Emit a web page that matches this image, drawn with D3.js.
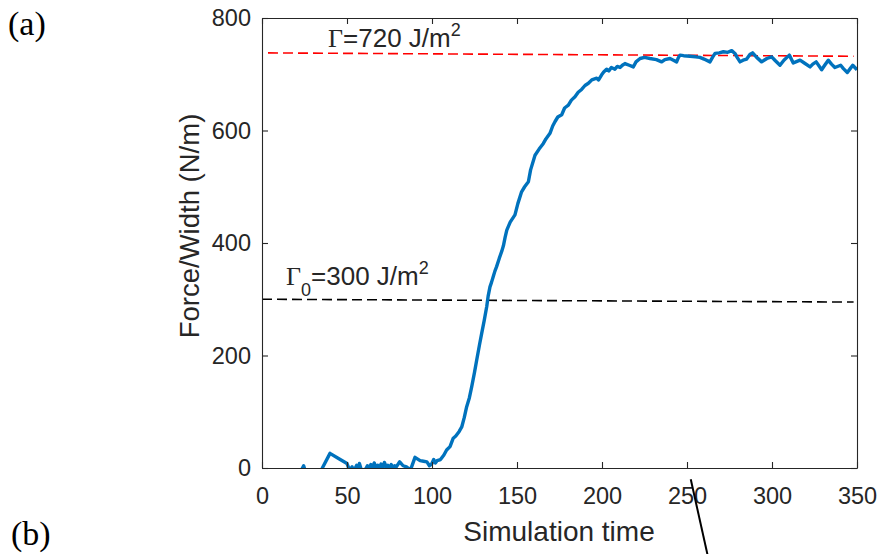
<!DOCTYPE html>
<html>
<head>
<meta charset="utf-8">
<script src="https://cdn.jsdelivr.net/npm/d3@7"></script>
<style>
  body { margin: 0; background: #fff; }
  svg { display: block; }
  .tick text { font-family: "Liberation Sans", Arial, sans-serif; font-size: 23.5px; fill: #262626; }
</style>
</head>
<body>
<svg id="chart" width="881" height="554"></svg>
<script>
// force/width vs simulation time
const curve = [
  [0,-40],[8,-25],[15,-45],[22,-20],[23.5,-2],[24.5,4],[25.5,-6],[30,-30],[35.5,0],[40,26],
  [45,17],[50,8],[51.5,-4],[53,2],[54,-6],[55.7,5],[56.5,-3],[57.3,8],[58.5,-4],[61,-2],
  [62,4],[63,-1],[64,6],[65,0],[66,9],[67,1],[68,5],[69,-1],[70,7],[71,0],[72,10],[73,2],
  [74,5],[75,-1],[76,6],[77,1],[78,4],[79,2],[81,11],[83,4],[85,2],[87,-3],[88,2],[90,19],
  [93,13],[95,12],[97,11],[98.5,4],[99.8,7],[101,15],[102,9],[103,13],[105,15],[107,23],
  [108.6,32],[110.6,38],[112.5,53],[114,57],[116,65],[117.5,73],[119,90],[120.4,109],
  [122,125],[123.4,145],[125,170],[126.3,192],[128,220],[129.2,239],[130.7,262],[132.2,287],
  [133,305],[134.1,322],[135,330],[136,340],[137,350],[138,358],[139.6,373],[141,385],
  [142,395],[143,410],[144,423],[146,437],[148.8,450],[150.5,470],[152.7,491],[154.5,500],
  [156.7,509],[158,530],[160.6,556],[163,567],[165.5,577],[167,585],[169.4,595],[171,608],
  [172.4,616],[174,624],[176.3,628],[178,640],[180.2,645],[182,654],[184.1,660],[186,668],
  [188,673],[190,680],[192,684],[194,690],[196.9,693],[198,690],[199.8,699],[201,704],
  [202.7,709],[204,706],[205.5,712],[207.6,709],[209,714],[210.6,712],[212,716],[213.5,719],
  [216,716],[218.4,713],[220,722],[222.4,728],[225,730],[228.2,728],[232,726],[235.1,722],
  [237,726],[240,728],[242,725],[243.9,722],[245,730],[245.9,734],[248,733],[251.8,732],
  [255,731],[257.6,730],[260,727],[263.5,722],[265,730],[266.5,737],[269,738],[271.4,740],
  [274,739],[276.3,742],[278.2,737],[279.5,730],[281.2,722],[283,725],[285.1,727],[287,735],
  [288.6,738],[291,730],[293.9,722],[297,728],[299.8,731],[302,724],[304.7,716],[307,725],
  [310.2,734],[312.5,720],[314,722],[316.5,725],[319,720],[322.4,713],[324,718],[326,722],
  [329.2,708],[331,716],[333.1,725],[335,718],[337,712],[340.4,716],[342,710],[344.3,703],
  [346,710],[347.5,716],[350,708]
];
const gammaLine = [[0, 738], [348, 732]];
const gamma0Line = [[0, 300], [348, 295]];
const pointerLine = [[252.2, -20], [262.5, -160]];
const xTicks = [0, 50, 100, 150, 200, 250, 300, 350];
const yTicks = [0, 200, 400, 600, 800];

const svg = d3.select("#chart");
const margin = { top: 18, right: 24, bottom: 86, left: 262 };
const width = 881 - margin.left - margin.right;
const height = 554 - margin.top - margin.bottom;

const x = d3.scaleLinear().domain([0, 350]).range([0, width]);
const y = d3.scaleLinear().domain([0, 800]).range([height, 0]);

svg.append("defs").append("clipPath").attr("id", "clip")
  .append("rect").attr("width", width).attr("height", height);

const g = svg.append("g").attr("transform", `translate(${margin.left},${margin.top})`);

const line = d3.line().x(d => x(d[0])).y(d => y(d[1]));

// reference levels
g.append("path").datum(gammaLine).attr("d", line)
  .attr("fill", "none").attr("stroke", "#ff0000").attr("stroke-width", 1.6)
  .attr("stroke-dasharray", "10,5").attr("stroke-dashoffset", -6);
g.append("path").datum(gamma0Line).attr("d", line)
  .attr("fill", "none").attr("stroke", "#000").attr("stroke-width", 1.6)
  .attr("stroke-dasharray", "10,5");

g.append("path").datum(curve).attr("d", line)
  .attr("clip-path", "url(#clip)")
  .attr("fill", "none").attr("stroke", "#0072bd").attr("stroke-width", 3.4)
  .attr("stroke-linejoin", "round");

// axes, box with inward ticks
g.append("g").attr("transform", `translate(0,${height})`)
  .call(d3.axisBottom(x).tickValues(xTicks).tickSizeInner(-6).tickSizeOuter(0).tickPadding(19));
g.append("g")
  .call(d3.axisLeft(y).tickValues(yTicks).tickSizeInner(-6).tickSizeOuter(0).tickPadding(11));
g.append("g")
  .call(d3.axisTop(x).tickValues(xTicks).tickSizeInner(-6).tickSizeOuter(0).tickFormat(""));
g.append("g").attr("transform", `translate(${width},0)`)
  .call(d3.axisRight(y).tickValues(yTicks).tickSizeInner(-6).tickSizeOuter(0).tickFormat(""));
g.selectAll(".domain, .tick line").attr("stroke", "#262626").attr("stroke-width", 1.1);

// axis titles
svg.append("text").attr("x", 559).attr("y", 541).attr("text-anchor", "middle")
  .style("font-family", "Liberation Sans, Arial, sans-serif").style("font-size", "28px")
  .attr("fill", "#262626").text("Simulation time");
svg.append("text").attr("transform", "translate(199,226) rotate(-90)").attr("text-anchor", "middle")
  .style("font-family", "Liberation Sans, Arial, sans-serif").style("font-size", "27.5px")
  .attr("fill", "#262626").text("Force/Width (N/m)");

// annotations
const t1 = svg.append("text").attr("x", 328).attr("y", 47)
  .style("font-family", "Liberation Sans, Arial, sans-serif").style("font-size", "26px").attr("fill", "#262626");
t1.append("tspan").style("font-family", "Liberation Serif, Times New Roman, serif").style("font-size", "26px").text("Γ");
t1.append("tspan").text("=720 J/m");
t1.append("tspan").attr("dy", -11).style("font-size", "18px").text("2");

const t2 = svg.append("text").attr("x", 286).attr("y", 285)
  .style("font-family", "Liberation Sans, Arial, sans-serif").style("font-size", "26px").attr("fill", "#262626");
t2.append("tspan").style("font-family", "Liberation Serif, Times New Roman, serif").style("font-size", "26px").text("Γ");
t2.append("tspan").attr("dy", 11).style("font-size", "18px").text("0");
t2.append("tspan").attr("dy", -11).text("=300 J/m");
t2.append("tspan").attr("dy", -11).style("font-size", "18px").text("2");

// panel letters and the pointer from panel (b)
svg.append("text").attr("x", 8).attr("y", 35)
  .style("font-family", "Liberation Serif, Times New Roman, serif").style("font-size", "34px")
  .attr("fill", "#000").text("(a)");
svg.append("text").attr("x", 11).attr("y", 545)
  .style("font-family", "Liberation Serif, Times New Roman, serif").style("font-size", "34px")
  .attr("fill", "#000").text("(b)");
g.append("path").datum(pointerLine).attr("d", line)
  .attr("fill", "none").attr("stroke", "#000").attr("stroke-width", 2);
</script>
</body>
</html>
